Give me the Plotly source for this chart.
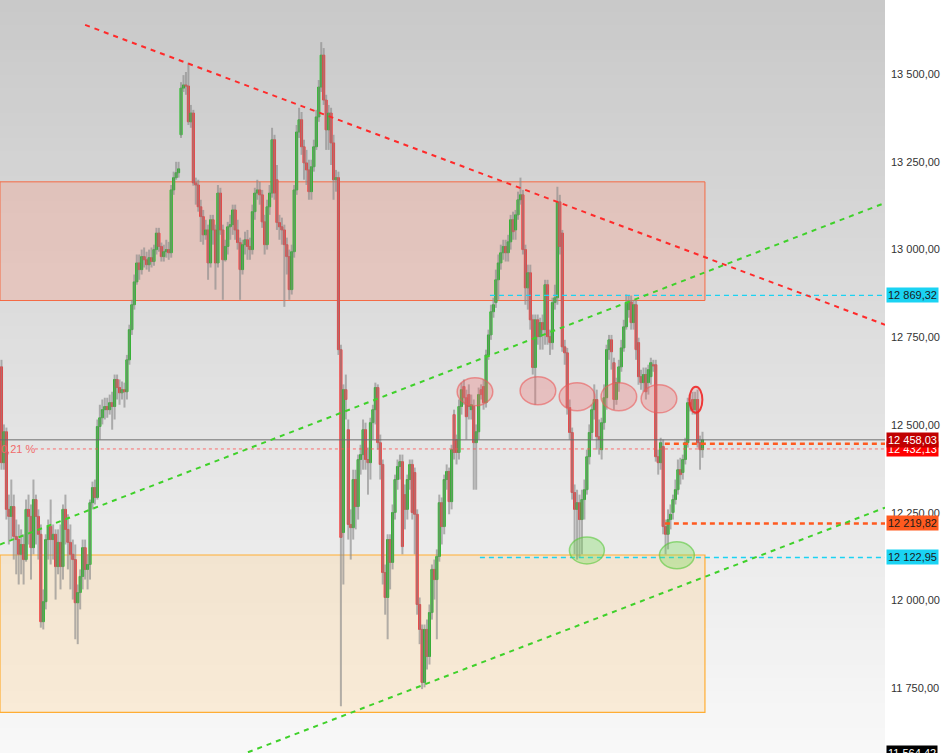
import plotly.graph_objects as go

# candle values (price), left to right
OPEN = [
    12666, 12393, 12481, 12260, 12240, 12268, 12183, 12174, 12132, 12160, 12117, 12260, 12240, 12151, 12288, 12240,
    12189, 11940, 11997, 12174, 12211, 12174, 12189, 12097, 12166, 12097, 12260, 12203, 12166, 12132, 12117, 11994,
    12023, 12069, 12151, 12089, 12103, 12279, 12322, 12294, 12496, 12521, 12544, 12553, 12544, 12564, 12553, 12630,
    12607, 12592, 12601, 12595,
    12686, 12772, 12843, 12908, 12962, 12943, 12980, 12971, 12957, 12977, 12966, 13000, 13047, 13009, 12980, 12994,
    13000, 12991, 13170, 13205, 13219, 13327, 13460, 13469, 13466, 13364, 13389, 13190, 13184, 13122, 13094, 13042,
    13056, 12962, 13085, 13056, 12962, 13161, 13056, 12971, 13009, 13065, 13071, 13113, 13056, 13020, 12943, 13014,
    13028, 13009, 13000, 13108, 13161, 13170, 13156, 13079, 13014, 13122, 13161, 13313, 13199, 13077, 13065, 13056,
    13014, 12980, 12886, 12994, 13170, 13335, 13370, 13293, 13247, 13227, 13165, 13236, 13293, 13378, 13463, 13554,
    13426, 13341, 13389, 13304, 13199, 13205,
    12715, 12194, 12601, 12487, 12217, 12208, 12345, 12268, 12402, 12416, 12487, 12402, 12393, 12507, 12544, 12607,
    12450, 12388, 12080, 12009, 12174, 12109, 12251, 12345, 12382, 12396, 12302, 12260, 12345, 12388, 12365, 12246,
    11989, 11918, 11767, 11918, 11841, 11966, 12089, 12060, 12126, 12279, 12211, 12345, 12368, 12282, 12530, 12459,
    12422, 12553, 12610, 12578, 12587, 12544, 12553, 12450, 12481, 12601, 12610, 12564, 12700, 12757, 12823, 12849,
    12914, 12962, 12991, 13009, 12991, 13022, 13085, 13056, 13099, 13142, 13156, 13000, 12891, 12934, 12800, 12664,
    12800, 12752, 12792, 12772, 12900, 12752, 12735, 12849, 12863, 13136, 13047, 12723, 12706, 12550, 12479, 12308,
    12260, 12279, 12231, 12288, 12316, 12410, 12479, 12544, 12573, 12467, 12430, 12507, 12578, 12715, 12743, 12678,
    12573, 12621, 12666, 12720, 12780, 12829, 12851, 12792, 12843, 12735, 12638, 12621, 12644, 12621, 12638, 12672,
    12672, 12410, 12393, 12439, 12211, 12189, 12231, 12251, 12288, 12316, 12373, 12365, 12402, 12450, 12564, 12573,
    12544, 12573, 12450, 12430,
]
HIGH = [
    12686, 12502, 12493, 12302, 12345, 12302, 12231, 12217, 12203, 12189, 12288, 12302, 12274, 12345, 12302, 12260,
    12217, 12032, 12189, 12231, 12288, 12217, 12203, 12203, 12217, 12274, 12302, 12246, 12217, 12174, 12160, 12046,
    12089, 12174, 12174, 12132, 12288, 12339, 12345, 12516, 12558, 12573, 12578, 12578, 12587, 12595, 12644, 12644,
    12630, 12624, 12621, 12700,
    12786, 12857, 12929, 12986, 12986, 13000, 13006, 12994, 13000, 13006, 13014, 13062, 13062, 13020, 13014, 13028,
    13022, 13184, 13222, 13250, 13250, 13477, 13497, 13506, 13532, 13412, 13398, 13205, 13199, 13142, 13113, 13085,
    13071, 13099, 13099, 13071, 13184, 13176, 13071, 13028, 13079, 13099, 13128, 13128, 13085, 13034, 13028, 13051,
    13056, 13034, 13128, 13176, 13199, 13193, 13170, 13099, 13142, 13184, 13347, 13327, 13241, 13099, 13091, 13071,
    13034, 13000, 13014, 13184, 13355, 13404, 13392, 13313, 13284, 13256, 13256, 13313, 13398, 13483, 13591, 13574,
    13441, 13412, 13404, 13327, 13227, 13222,
    12729, 12616, 12644, 12516, 12260, 12373, 12373, 12416, 12444, 12516, 12507, 12436, 12521, 12558, 12621, 12616,
    12473, 12402, 12103, 12189, 12189, 12274, 12359, 12402, 12416, 12416, 12331, 12359, 12402, 12402, 12379, 12260,
    12009, 11932, 11932, 11946, 11989, 12103, 12117, 12146, 12302, 12294, 12359, 12388, 12379, 12444, 12544, 12473,
    12573, 12621, 12630, 12601, 12616, 12587, 12573, 12502, 12607, 12616, 12630, 12715, 12772, 12843, 12863, 12943,
    12986, 13014, 13028, 13028, 13042, 13099, 13108, 13113, 13165, 13205, 13170, 13014, 12957, 12957, 12815, 12815,
    12815, 12806, 12815, 12914, 12914, 12772, 12863, 12900, 13179, 13156, 13056, 12743, 12720, 12573, 12493, 12331,
    12316, 12302, 12316, 12345, 12430, 12502, 12558, 12616, 12601, 12516, 12521, 12616, 12729, 12757, 12757, 12692,
    12635, 12686, 12743, 12800, 12872, 12869, 12869, 12857, 12857, 12749, 12658, 12664, 12664, 12672, 12692, 12686,
    12686, 12430, 12464, 12459, 12231, 12260, 12274, 12302, 12345, 12402, 12407, 12416, 12464, 12578, 12587, 12595,
    12595, 12601, 12470, 12481,
]
LOW = [
    12373, 12373, 12231, 12160, 12174, 12117, 12075, 12046, 12075, 12046, 12111, 12160, 12060, 12132, 12160, 12117,
    11923, 11918, 11975, 12117, 12103, 12117, 12003, 12075, 12032, 12060, 12160, 12089, 12032, 12003, 11890, 11876,
    11975, 12032, 12060, 12032, 12060, 12260, 12274, 12288, 12459, 12502, 12516, 12521, 12530, 12487, 12516, 12573,
    12558, 12573, 12550, 12573,
    12672, 12757, 12829, 12900, 12914, 12929, 12949, 12943, 12937, 12949, 12954, 12986, 12994, 12966, 12966, 12977,
    12971, 12977, 13156, 13199, 13205, 13318, 13449, 13441, 13355, 13347, 13182, 13128, 13108, 13022, 13014, 13028,
    12914, 12949, 13014, 12886, 12949, 13042, 12857, 12966, 12986, 13028, 13042, 13028, 13000, 12857, 12929, 12986,
    12971, 12971, 12986, 13085, 13142, 13128, 13062, 12986, 13000, 13099, 13148, 13142, 13056, 13028, 13014, 12837,
    12929, 12857, 12872, 12977, 13156, 13318, 13270, 13199, 13184, 13142, 13142, 13222, 13284, 13364, 13449, 13412,
    13284, 13284, 13241, 13142, 13165, 12700,
    11699, 12046, 12516, 12174, 12117, 12174, 12203, 12231, 12359, 12373, 12373, 12302, 12345, 12459, 12502, 12430,
    12345, 12046, 11960, 11890, 12032, 12089, 12231, 12316, 12345, 12132, 12203, 12231, 12316, 12231, 12132, 11960,
    11876, 11748, 11753, 11804, 11818, 11946, 12003, 11890, 12111, 12160, 12189, 12316, 12246, 12260, 12402, 12388,
    12402, 12530, 12558, 12459, 12516, 12516, 12316, 12316, 12459, 12573, 12544, 12550, 12686, 12743, 12806, 12834,
    12857, 12943, 12971, 12966, 12966, 13000, 13028, 13028, 13085, 13128, 12986, 12843, 12829, 12772, 12644, 12558,
    12729, 12715, 12715, 12729, 12729, 12700, 12715, 12829, 12843, 12986, 12709, 12672, 12530, 12459, 12288, 12132,
    12117, 12123, 12132, 12231, 12302, 12388, 12459, 12516, 12430, 12416, 12402, 12487, 12544, 12686, 12658, 12544,
    12558, 12595, 12652, 12709, 12772, 12806, 12772, 12772, 12686, 12615, 12601, 12595, 12573, 12587, 12615, 12652,
    12396, 12359, 12373, 12189, 12132, 12146, 12203, 12231, 12274, 12302, 12331, 12345, 12388, 12436, 12539, 12530,
    12530, 12436, 12373, 12407,
]
CLOSE = [
    12393, 12481, 12260, 12240, 12268, 12183, 12174, 12132, 12160, 12117, 12260, 12240, 12151, 12288, 12240, 12189,
    11940, 11997, 12174, 12211, 12174, 12189, 12097, 12166, 12097, 12260, 12203, 12166, 12132, 12117, 11994, 12023,
    12069, 12151, 12089, 12103, 12279, 12322, 12294, 12496, 12521, 12544, 12553, 12544, 12564, 12553, 12630, 12607,
    12592, 12601, 12595, 12686,
    12772, 12843, 12908, 12962, 12943, 12980, 12971, 12957, 12977, 12966, 13000, 13047, 13009, 12980, 12994, 13000,
    12991, 13170, 13205, 13219, 13230, 13460, 13469, 13466, 13364, 13389, 13190, 13184, 13122, 13094, 13042, 13056,
    12962, 13085, 13056, 12962, 13161, 13056, 12971, 13009, 13065, 13071, 13113, 13056, 13020, 12943, 13014, 13028,
    13009, 13000, 13108, 13161, 13170, 13156, 13079, 13014, 13122, 13161, 13313, 13161, 13077, 13065, 13056, 13014,
    12980, 12886, 12994, 13170, 13335, 13370, 13293, 13247, 13227, 13165, 13236, 13293, 13378, 13463, 13554, 13426,
    13341, 13389, 13304, 13199, 13205, 12715,
    12180, 12601, 12573, 12217, 12208, 12345, 12268, 12402, 12416, 12487, 12402, 12393, 12507, 12544, 12607, 12450,
    12388, 12080, 12009, 12174, 12109, 12251, 12345, 12382, 12396, 12154, 12260, 12345, 12388, 12251, 12246, 11989,
    11918, 11767, 11918, 11841, 11966, 12089, 12060, 12126, 12279, 12211, 12345, 12368, 12282, 12430, 12422, 12422,
    12553, 12601, 12578, 12524, 12553, 12558, 12450, 12481, 12587, 12587, 12564, 12700, 12757, 12823, 12843, 12914,
    12962, 12991, 13009, 12991, 13022, 13085, 13051, 13099, 13142, 13156, 13000, 12891, 12934, 12800, 12664, 12800,
    12752, 12792, 12772, 12900, 12752, 12735, 12849, 12863, 13136, 13009, 12723, 12706, 12550, 12479, 12308, 12260,
    12279, 12231, 12288, 12316, 12410, 12479, 12544, 12573, 12467, 12459, 12507, 12578, 12715, 12743, 12709, 12573,
    12621, 12666, 12720, 12780, 12849, 12851, 12792, 12843, 12715, 12638, 12621, 12644, 12595, 12658, 12678, 12669,
    12410, 12393, 12450, 12211, 12189, 12231, 12246, 12288, 12316, 12373, 12359, 12402, 12450, 12564, 12558, 12544,
    12573, 12450, 12430, 12458,
]

Y_TICKS = [11750, 12000, 12250, 12500, 12750, 13000, 13250, 13500]
Y_RANGE = [11566, 13711]
X_RANGE = [-0.6, 359.2]

LAST_PRICE = 12458.03
REF_PRICE = 12432.13
UPPER_CYAN = 12869.32
LOWER_CYAN = 12122.95
STOP_LEVEL = 12219.82
ALERT_LEVEL = 12447
RANGE_LOW = 11564.42
CHANGE_TEXT = "0,21 %"

RED_ZONE = [12855, 13193]
ORANGE_ZONE = [11682, 12130]
ZONE_END = 286.0

DOWN_TREND = ([34.0, 359.2], [13640, 12786])
UP_TREND_TOP = ([-0.6, 359.2], [12160, 13133])
UP_TREND_LOW = ([100.2, 359.2], [11568, 12265])

RED_MARKS = [(192.5, 12595), (218.1, 12598), (234.0, 12581), (251.0, 12581), (267.3, 12575)]
SMALL_MARK = (282.3, 12572)
GREEN_MARKS = [(238.0, 12143), (274.6, 12129)]

FONT = "Liberation Sans, Arial, sans-serif"
GREEN = "#14bd14"
RED = "#ff3030"


def fmt(v):
    return f"{v:,.2f}".replace(",", " ").replace(".", ",")


def hline(fig, y, x0, color, width, dash):
    fig.add_shape(type="line", xref="x", yref="y", x0=x0, x1=X_RANGE[1], y0=y, y1=y,
                  line=dict(color=color, width=width, dash=dash))


def ellipse(fig, cx, cy, w, h, fill, edge, width):
    fig.add_shape(type="circle", xref="x", yref="y", x0=cx - w / 2, x1=cx + w / 2,
                  y0=cy - h / 2, y1=cy + h / 2, fillcolor=fill,
                  line=dict(color=edge, width=width))


def price_tag(fig, y, bg, fg):
    fig.add_annotation(xref="paper", x=1, xanchor="left", xshift=1, yref="y", y=y,
                       text=fmt(y), showarrow=False, bgcolor=bg, borderpad=1,
                       font=dict(color=fg, size=11, family=FONT))


fig = go.Figure()

# background gradient, dark grey at the top to near white at the bottom
steps = 60
for k in range(steps):
    t = k / (steps - 1)
    g = round(248 - (248 - 201) * t)
    fig.add_shape(type="rect", xref="paper", yref="paper", x0=0, x1=1,
                  y0=k / steps, y1=min(1, (k + 1.5) / steps),
                  fillcolor=f"rgb({g},{g},{g})", line_width=0, layer="below")

fig.add_shape(type="rect", xref="x", yref="y", x0=X_RANGE[0], x1=ZONE_END,
              y0=RED_ZONE[0], y1=RED_ZONE[1], fillcolor="rgba(250,157,133,0.32)",
              line=dict(color="#f46a45", width=1), layer="below")
fig.add_shape(type="rect", xref="x", yref="y", x0=X_RANGE[0], x1=ZONE_END,
              y0=ORANGE_ZONE[0], y1=ORANGE_ZONE[1], fillcolor="rgba(255,213,150,0.32)",
              line=dict(color="#ffad33", width=1.2), layer="below")

idx = list(range(len(CLOSE)))

wx, wy = [], []
for i, h, l in zip(idx, HIGH, LOW):
    wx += [i, i, None]
    wy += [l, h, None]
fig.add_trace(go.Scatter(x=wx, y=wy, mode="lines", hoverinfo="skip", showlegend=False,
                         line=dict(color="rgba(140,140,140,0.65)", width=2)))

fig.add_trace(go.Candlestick(
    x=idx, open=OPEN, close=CLOSE,
    high=[max(o, c) for o, c in zip(OPEN, CLOSE)],
    low=[min(o, c) for o, c in zip(OPEN, CLOSE)],
    increasing=dict(line=dict(color=GREEN, width=1), fillcolor=GREEN),
    decreasing=dict(line=dict(color=RED, width=1), fillcolor=RED),
    whiskerwidth=0, showlegend=False,
))

# levels
hline(fig, LAST_PRICE, X_RANGE[0], "#6b6b6b", 1, "solid")
hline(fig, REF_PRICE, 13.6, "rgba(255,80,80,0.8)", 1, "dot")
hline(fig, UPPER_CYAN, 198.6, "#1ad3f3", 1.3, "5px,4px")
hline(fig, LOWER_CYAN, 194.5, "#1ad3f3", 1.3, "5px,4px")
hline(fig, ALERT_LEVEL, 269.7, "#ff5a1f", 2.5, "5px,4px")
hline(fig, STOP_LEVEL, 269.7, "#ff5a1f", 2.5, "5px,4px")

# trend lines
for (xs, ys), color in [(DOWN_TREND, "#ff2a2a"), (UP_TREND_TOP, "#3fd12a"), (UP_TREND_LOW, "#3fd12a")]:
    fig.add_shape(type="line", xref="x", yref="y", x0=xs[0], x1=xs[1], y0=ys[0], y1=ys[1],
                  line=dict(color=color, width=2, dash="5px,5px"))

for cx, cy in RED_MARKS:
    ellipse(fig, cx, cy, 14.5, 80, "rgba(240,110,110,0.3)", "rgba(235,90,90,0.6)", 1.5)
ellipse(fig, SMALL_MARK[0], SMALL_MARK[1], 5.3, 74, "rgba(240,110,110,0.15)", "rgba(240,40,40,0.9)", 2)
for cx, cy in GREEN_MARKS:
    ellipse(fig, cx, cy, 14.2, 77, "rgba(120,220,90,0.35)", "rgba(90,200,60,0.6)", 1.5)

fig.add_annotation(xref="paper", x=0, xanchor="left", xshift=-1, yref="y", y=REF_PRICE,
                   text=CHANGE_TEXT, showarrow=False,
                   font=dict(color="#f06a6a", size=11, family=FONT))

price_tag(fig, UPPER_CYAN, "#1ad3f3", "#1a1a1a")
price_tag(fig, REF_PRICE, "#ff0000", "white")
price_tag(fig, LAST_PRICE, "#c00000", "white")
price_tag(fig, STOP_LEVEL, "#ff5a1f", "#1a1a1a")
price_tag(fig, LOWER_CYAN, "#1ad3f3", "#1a1a1a")

# range low sits just below the visible price range, so pin it to the bottom edge
fig.add_annotation(xref="paper", x=1, xanchor="left", xshift=1, yref="paper", y=0,
                   yanchor="bottom", yshift=-8, text=fmt(RANGE_LOW), showarrow=False,
                   bgcolor="#000000", borderpad=1,
                   font=dict(color="white", size=11, family=FONT))

fig.update_layout(
    width=948, height=753,
    margin=dict(l=0, r=63, t=0, b=0),
    paper_bgcolor="white", plot_bgcolor="#e6e6e6",
    separators=", ",
    showlegend=False,
    boxgap=0.15, boxgroupgap=0,
    xaxis=dict(range=X_RANGE, visible=False, rangeslider=dict(visible=False)),
    yaxis=dict(side="right", range=Y_RANGE, tickvals=Y_TICKS, tickformat=",.2f",
               showgrid=False, zeroline=False, showline=False, ticks="",
               ticklabelstandoff=5,
               tickfont=dict(size=11, color="#333333", family=FONT)),
)

fig.write_html(
    "out.html",
    config={"displayModeBar": False},
    post_script="document.body.style.margin='0';document.body.style.overflow='hidden';",
)
